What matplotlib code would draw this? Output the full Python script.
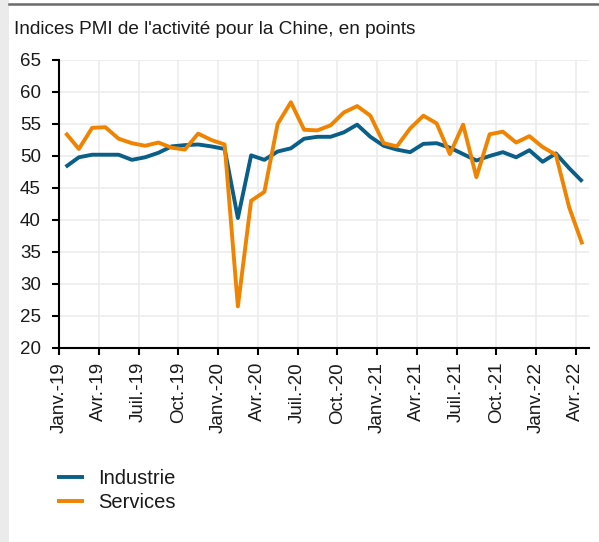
import matplotlib
matplotlib.use("Agg")
import matplotlib.pyplot as plt
from matplotlib.lines import Line2D
from matplotlib.patches import Rectangle

months = ["Janv.-19", "Avr.-19", "Juil.-19", "Oct.-19",
          "Janv.-20", "Avr.-20", "Juil.-20", "Oct.-20",
          "Janv.-21", "Avr.-21", "Juil.-21", "Oct.-21",
          "Janv.-22", "Avr.-22"]

industrie = [48.3, 49.8, 50.2, 50.2, 50.2, 49.4, 49.8, 50.5, 51.5, 51.7, 51.8, 51.5,
             51.1, 40.3, 50.1, 49.4, 50.7, 51.2, 52.7, 53.0, 53.0, 53.7, 54.9, 53.0,
             51.6, 51.0, 50.6, 51.9, 52.0, 51.3, 50.3, 49.3, 50.0, 50.6, 49.8, 50.9,
             49.1, 50.4, 48.1, 46.0]

services = [53.6, 51.1, 54.4, 54.5, 52.7, 52.0, 51.6, 52.1, 51.3, 51.0, 53.5, 52.5,
            51.8, 26.5, 43.0, 44.4, 55.0, 58.4, 54.1, 54.0, 54.8, 56.8, 57.8, 56.3,
            52.0, 51.5, 54.3, 56.3, 55.1, 50.3, 54.9, 46.7, 53.4, 53.8, 52.1, 53.1,
            51.4, 50.2, 42.0, 36.2]

yticks = [20, 25, 30, 35, 40, 45, 50, 55, 60, 65]

plt.rcParams["font.family"] = ["Liberation Sans", "DejaVu Sans"]

BLUE = "#0a5f88"
ORANGE = "#f08300"
TXT = "#1a1a1a"

fig = plt.figure(figsize=(5.99, 5.42), dpi=100)
fig.patches.append(Rectangle((0, 0), 9 / 599, 1, transform=fig.transFigure,
                             facecolor="#ebebeb", edgecolor="none", zorder=0))
fig.add_artist(Line2D([9 / 599, 1], [1 - 3.5 / 542, 1 - 3.5 / 542],
                      transform=fig.transFigure, color="#6b6b6b", lw=1.8))

ax = fig.add_axes([59 / 599, 1 - 348 / 542, (589 - 59) / 599, (348 - 60) / 542])

x = [i + 0.5 for i in range(len(industrie))]
ax.plot(x, industrie, color=BLUE, lw=2.8, solid_capstyle="butt", zorder=3, label="Industrie")
ax.plot(x, services, color=ORANGE, lw=2.8, solid_capstyle="butt", zorder=3, label="Services")

ax.set_xlim(0, 40)
ax.set_ylim(20, 65)
ax.set_yticks(yticks)
ax.set_yticklabels([str(v) for v in yticks], fontsize=13.5)
ax.set_xticks([3 * k for k in range(len(months))])
ax.set_xticklabels(months, rotation=90, fontsize=13.5)

ax.grid(True, color="#ececec", lw=1.2)
ax.set_axisbelow(True)
for s in ["top", "right"]:
    ax.spines[s].set_visible(False)
for s in ["left", "bottom"]:
    ax.spines[s].set_color("black")
    ax.spines[s].set_linewidth(1.5)
ax.tick_params(axis="both", length=5, width=1.5, color="black", labelcolor=TXT)
ax.tick_params(axis="y", pad=8)
ax.tick_params(axis="x", pad=5)

fig.text(14 / 599, 1 - 30 / 542, "Indices PMI de l'activité pour la Chine, en points",
         fontsize=13.7, va="center", ha="left", color=TXT)

fig.legend(handles=ax.get_lines(), loc="upper left",
           bbox_to_anchor=(57 / 599, 1 - 469 / 542), frameon=False, borderpad=0,
           borderaxespad=0, fontsize=14.5, handlelength=1.35, handletextpad=0.7,
           labelspacing=0.25, labelcolor=TXT)

fig.savefig("out.png", dpi=100, facecolor="white")
